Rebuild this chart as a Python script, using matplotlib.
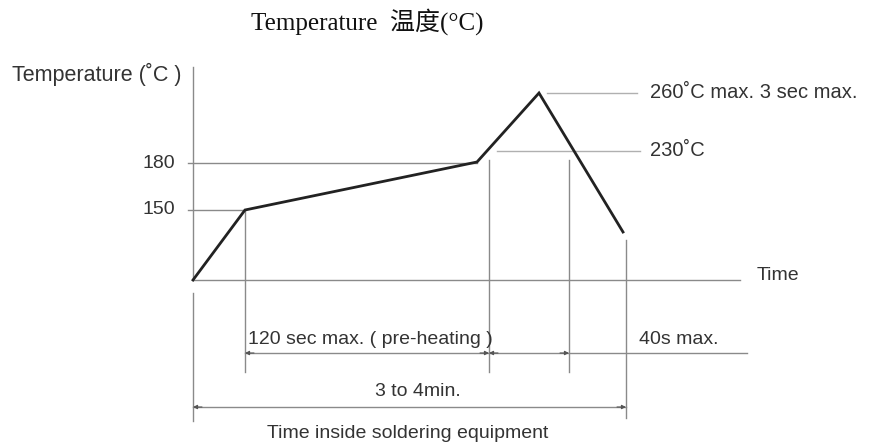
import matplotlib
matplotlib.use("Agg")
import matplotlib.pyplot as plt

# ---- schematic data (time units / temperature-level units, origin at axes crossing) ----
profile_time = [0, 52, 284, 346, 430]
profile_level = [0, 70, 118, 187, 48]

tick_labels = ["180", "150"]
tick_levels = [117, 70]

# reference lines: (label, level, t_start, t_end)
ref_labels = ["260˚C max. 3 sec max.", "230˚C"]
ref_levels = [187, 129]
ref_starts = [354, 304]
ref_ends = [444, 447]

# vertical marker lines: time, top level, bottom level
marker_times = [52, 296, 376, 433]
marker_tops = [70, 120, 120, 40]
marker_bottoms = [-92, -92, -92, -138]

dim1_level = -73
dim2_level = -127

GREY = "#8a8a8a"
TXT = "#333333"
SANS = ["Liberation Sans", "DejaVu Sans"]

fig = plt.figure(figsize=(8.77, 4.45), dpi=100)
ax = fig.add_axes([0, 0, 1, 1])
ax.set_xlim(-193, 877 - 193)
ax.set_ylim(280 - 445, 280)
ax.axis("off")

# axes lines
ax.plot([0, 0], [0, 213], color=GREY, lw=1)
ax.plot([0, 0], [-141, -13], color=GREY, lw=1)
ax.plot([0, 547], [0, 0], color=GREY, lw=1)

# tick reference lines
ax.plot([-5, 284], [tick_levels[0]] * 2, color=GREY, lw=1)
ax.plot([-5, 52], [tick_levels[1]] * 2, color=GREY, lw=1)
for lab, lv in zip(tick_labels, tick_levels):
    ax.text(-18, lv, lab, ha="right", va="center", fontsize=14,
            family=SANS, color=TXT)

# upper reference lines + labels
for lab, lv, s, e in zip(ref_labels, ref_levels, ref_starts, ref_ends):
    ax.plot([s, e], [lv, lv], color="#b0b0b0", lw=1)
    ax.text(457, lv, lab, ha="left", va="center", fontsize=14.5,
            family=SANS, color=TXT)

# vertical markers
for t, top, bot in zip(marker_times, marker_tops, marker_bottoms):
    ax.plot([t, t], [bot, top], color=GREY, lw=1)

# dimension lines
ax.plot([52, 554], [dim1_level] * 2, color=GREY, lw=1)
ax.plot([0, 433], [dim2_level] * 2, color=GREY, lw=1)

def head(x, y, direction):
    ax.annotate("", xy=(x, y), xytext=(x + 9 * direction, y),
                arrowprops=dict(arrowstyle="-|>", color="#555555", lw=0.8,
                                mutation_scale=6, shrinkA=0, shrinkB=0))

head(52, dim1_level, 1)
head(296, dim1_level, -1)
head(296, dim1_level, 1)
head(376, dim1_level, -1)
head(0, dim2_level, 1)
head(433, dim2_level, -1)

# temperature profile
ax.plot(profile_time, profile_level, color="#222222", lw=2, solid_joinstyle="miter")

# texts
ax.text(-181, 206, "Temperature (˚C )", ha="left", va="center", fontsize=15.5,
        family=SANS, color=TXT)
ax.text(564, 5, "Time", ha="left", va="center", fontsize=14,
        family=SANS, color=TXT)
ax.text(55, dim1_level + 13, "120 sec max. ( pre-heating )", ha="left",
        va="center", fontsize=14, family=SANS, color=TXT)
ax.text(446, dim1_level + 13, "40s max.", ha="left", va="center",
        fontsize=14, family=SANS, color=TXT)
ax.text(225, dim2_level + 15, "3 to 4min.", ha="center", va="center",
        fontsize=14, family=SANS, color=TXT)
ax.text(215, -153, "Time inside soldering equipment", ha="center",
        va="center", fontsize=14, family=SANS, color=TXT)
ax.text(174, 258, "Temperature  温度(°C)", ha="center", va="center",
        fontsize=18, family=["Liberation Serif", "Noto Sans CJK SC"],
        color="#111111")

fig.savefig("out.png", dpi=100)
